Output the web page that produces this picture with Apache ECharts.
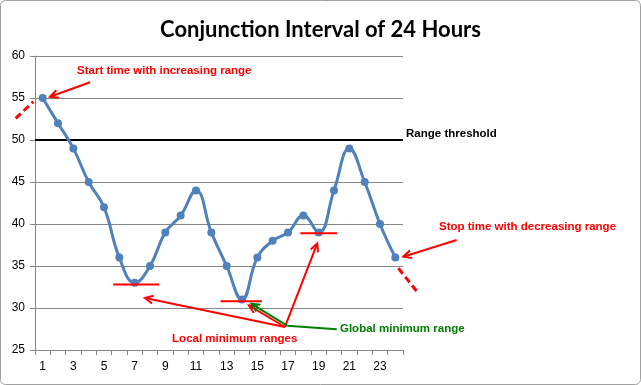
<!DOCTYPE html>
<html><head><meta charset="utf-8">
<script src="https://cdn.jsdelivr.net/npm/echarts@6/dist/echarts.min.js"></script>
<style>html,body{margin:0;padding:0;background:#fff}#c{width:641px;height:385px}</style>
</head><body><div id="c"></div>
<script>
// ---- data ----
const hours = ['1','2','3','4','5','6','7','8','9','10','11','12','13','14','15','16','17','18','19','20','21','22','23','24'];
const range = [55,52,49,45,42,36,33,35,39,41,44,39,35,31,36,38,39,41,39,44,49,45,40,36];
const threshold = 50;
const yMin = 25, yMax = 60, yStep = 5;
const titleText = 'Conjunction Interval of 24 Hours';

// annotation geometry in data units (x: hour position, y: range)
const dashedLines = [[[-0.76,52.58],[0.39,54.56]], [[24.2,34.73],[25.5,31.75]]];
const minimumBars = [[[5.6,32.8],[8.6,32.8]], [[12.6,30.8],[15.3,30.8]], [[17.8,38.9],[20.2,38.9]]];
const redArrows = [[[4.09,56.87],[1.48,55.15]], [[16.8,27.74],[7.67,31.19]], [[16.8,27.74],[14.45,30.3]], [[16.8,27.74],[18.91,37.7]], [[28.0,38.1],[24.52,36.11]]];
const greenArrows = [[[16.95,27.9],[14.62,30.5]]];
const greenLines = [[[16.95,27.9],[20.18,27.46]]];
const notes = [
  {text:'Start time with increasing range', at:[3.24,58.21], color:'#FF0000'},
  {text:'Local minimum ranges', at:[9.44,26.31], color:'#FF0000'},
  {text:'Global minimum range', at:[20.39,27.5], color:'#008000'},
  {text:'Stop time with decreasing range', at:[26.85,39.61], color:'#FF0000'},
  {text:'Range threshold', at:[24.7,50.68], color:'#000000'}
];

const chart = echarts.init(document.getElementById('c'), null, {renderer:'canvas'});
const TFONT = 'Lato, "Liberation Sans", sans-serif';
const FONT = '"Liberation Sans", Arial, sans-serif';
chart.setOption({
  animation:false,
  title:{text:titleText, left:'center', top:14, textStyle:{fontFamily:TFONT, fontWeight:'bold', fontSize:22, color:'#000'}},
  grid:{left:35, right:238, top:56, bottom:35},
  xAxis:[{
    type:'category', data:hours, boundaryGap:true,
    axisLine:{lineStyle:{color:'#868686'}},
    axisTick:{show:true, interval:0, length:5, lineStyle:{color:'#868686'}},
    axisLabel:{interval:1, color:'#000', fontFamily:FONT, fontSize:12, margin:11},
    splitLine:{show:false}
  },{
    type:'value', min:0.5, max:24.5, show:false
  }],
  yAxis:{
    type:'value', min:yMin, max:yMax, interval:yStep,
    axisLine:{show:true, lineStyle:{color:'#868686'}},
    axisTick:{show:true, length:5, lineStyle:{color:'#868686'}},
    axisLabel:{color:'#000', fontFamily:FONT, fontSize:12, margin:10},
    splitLine:{lineStyle:{color:'#868686', width:1}}
  },
  series:[{
    type:'line', data:range, smooth:0.45,
    symbol:'circle', symbolSize:8,
    lineStyle:{color:'#4F81BD', width:3},
    itemStyle:{color:'#4F81BD'},
    z:5,
    markLine:{silent:true, symbol:'none', label:{show:false},
      lineStyle:{color:'#000', width:2, type:'solid'},
      data:[{yAxis:threshold}]}
  }]
});

function P(p){ return [chart.convertToPixel({xAxisIndex:1}, p[0]), chart.convertToPixel({yAxisIndex:0}, p[1])]; }
const g = [];
g.push({type:'rect', shape:{x:0.5,y:0.5,width:640,height:384,r:5}, style:{fill:'none', stroke:'#A0A0A0', lineWidth:1}, z:0});
dashedLines.forEach(l=>{const a=P(l[0]), b=P(l[1]);
  g.push({type:'line', shape:{x1:a[0],y1:a[1],x2:b[0],y2:b[1]}, style:{stroke:'#FF0000', lineWidth:3, lineDash:[7,4]}, z:10});});
minimumBars.forEach(l=>{const a=P(l[0]), b=P(l[1]);
  g.push({type:'line', shape:{x1:a[0],y1:a[1],x2:b[0],y2:b[1]}, style:{stroke:'#FF0000', lineWidth:2}, z:10});});
function arrow(l, color){
  const a=P(l[0]), b=P(l[1]);
  g.push({type:'line', shape:{x1:a[0],y1:a[1],x2:b[0],y2:b[1]}, style:{stroke:color, lineWidth:2}, z:10});
  const ang=Math.atan2(b[1]-a[1], b[0]-a[0]), L=9, W=0.45;
  const p1=[b[0]-L*Math.cos(ang-W), b[1]-L*Math.sin(ang-W)];
  const p2=[b[0]-L*Math.cos(ang+W), b[1]-L*Math.sin(ang+W)];
  g.push({type:'polyline', shape:{points:[p1,b,p2]}, style:{stroke:color, lineWidth:2, fill:null}, z:10});
}
redArrows.forEach(l=>arrow(l,'#FF0000'));
greenArrows.forEach(l=>arrow(l,'#008000'));
greenLines.forEach(l=>{const a=P(l[0]), b=P(l[1]);
  g.push({type:'line', shape:{x1:a[0],y1:a[1],x2:b[0],y2:b[1]}, style:{stroke:'#008000', lineWidth:2}, z:10});});
notes.forEach(n=>{const a=P(n.at);
  g.push({type:'text', x:a[0], y:a[1], style:{text:n.text, fill:n.color, font:'bold 11.5px '+FONT, textVerticalAlign:'middle', textAlign:'left'}, z:11});});
chart.setOption({graphic:g});
</script>
</body></html>
